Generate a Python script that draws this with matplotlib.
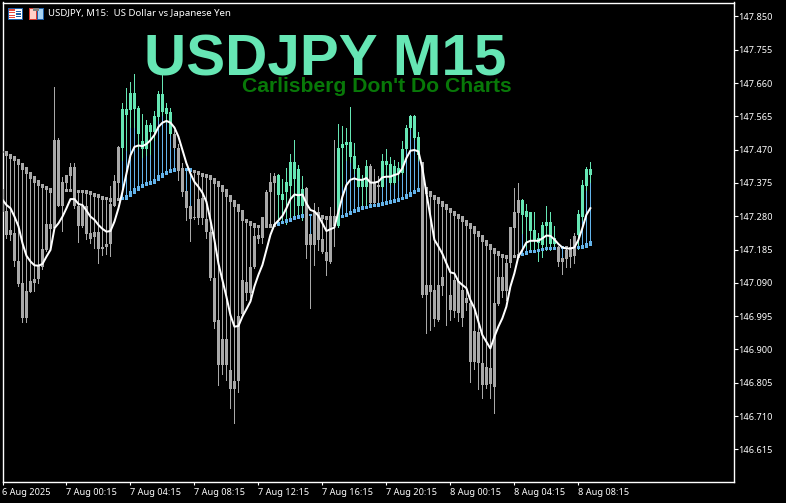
import matplotlib
matplotlib.use("Agg")
import matplotlib.pyplot as plt
from matplotlib.patches import Rectangle
import numpy as np

slow = [147.463,147.455,147.447,147.440,147.429,147.416,147.403,147.391,147.379,147.369,
147.363,147.358,147.351,147.352,147.352,147.352,147.353,147.353,147.352,147.351,
147.350,147.348,147.344,147.339,147.335,147.331,147.329,147.323,147.326,147.329,
147.331,147.338,147.348,147.357,147.364,147.369,147.373,147.377,147.384,147.393,
147.400,147.406,147.411,147.415,147.415,147.414,147.414,147.409,147.406,147.401,
147.397,147.393,147.386,147.377,147.366,147.353,147.338,147.323,147.310,147.295,
147.270,147.263,147.256,147.251,147.250,147.250,147.251,147.253,147.255,147.261,
147.263,147.268,147.272,147.276,147.280,147.283,147.284,147.284,147.283,147.281,
147.277,147.274,147.276,147.277,147.279,147.281,147.286,147.292,147.297,147.302,
147.305,147.307,147.310,147.311,147.314,147.317,147.319,147.322,147.325,147.329,
147.332,147.339,147.346,147.352,147.356,147.360,147.348,147.338,147.330,147.319,
147.310,147.301,147.292,147.284,147.276,147.267,147.257,147.248,147.234,147.224,
147.210,147.198,147.186,147.176,147.169,147.165,147.163,147.165,147.165,147.169,
147.172,147.178,147.179,147.181,147.184,147.186,147.188,147.188,147.190,147.190,
147.191,147.190,147.190,147.191,147.190,147.194,147.200,147.207]

body_top = [147.357,147.295,147.241,147.233,147.153,147.089,147.067,147.094,147.100,147.141,
147.186,147.258,147.258,147.498,147.498,147.378,147.398,147.420,147.420,147.310,
147.310,147.308,147.232,147.234,147.236,147.193,147.201,147.314,147.381,147.479,
147.585,147.585,147.632,147.632,147.590,147.494,147.540,147.540,147.566,147.629,
147.629,147.590,147.578,147.516,147.476,147.416,147.352,147.309,147.279,147.328,
147.331,147.272,147.236,147.105,146.984,146.930,146.930,146.841,146.810,146.995,
147.098,147.092,147.135,147.224,147.227,147.279,147.348,147.379,147.395,147.398,
147.343,147.378,147.434,147.436,147.414,147.357,147.360,147.229,147.291,147.291,
147.214,147.179,147.279,147.279,147.474,147.486,147.491,147.493,147.452,147.417,
147.384,147.424,147.424,147.374,147.369,147.438,147.438,147.429,147.422,147.417,
147.472,147.533,147.567,147.567,147.505,147.434,147.084,147.084,147.070,147.084,
147.108,147.056,147.056,147.098,147.094,147.070,147.046,147.033,146.953,146.951,
146.860,146.849,146.847,147.032,147.108,147.108,147.146,147.248,147.292,147.326,
147.326,147.295,147.292,147.241,147.217,147.255,147.263,147.264,147.217,147.193,
147.160,147.184,147.188,147.224,147.286,147.369,147.415,147.415]

body_bottom = [147.295,147.227,147.227,147.151,147.087,146.991,146.991,147.065,147.091,147.100,
147.134,147.184,147.245,147.246,147.310,147.310,147.374,147.395,147.310,147.251,
147.251,147.230,147.214,147.222,147.187,147.187,147.191,147.201,147.310,147.376,
147.475,147.569,147.583,147.586,147.516,147.472,147.472,147.519,147.519,147.564,
147.578,147.573,147.514,147.474,147.410,147.350,147.304,147.271,147.274,147.274,
147.276,147.236,147.105,146.977,146.855,146.855,146.855,146.786,146.786,146.810,
147.001,147.061,147.061,147.135,147.215,147.217,147.251,147.348,147.376,147.341,
147.327,147.350,147.367,147.386,147.310,147.310,147.198,147.198,147.198,147.213,
147.179,147.151,147.149,147.251,147.251,147.474,147.484,147.448,147.415,147.363,
147.363,147.363,147.317,147.317,147.363,147.363,147.427,147.374,147.374,147.403,
147.403,147.472,147.531,147.503,147.455,147.056,147.056,147.065,146.986,146.984,
147.081,147.054,147.013,147.011,147.003,146.991,147.033,146.865,146.865,146.860,
146.800,146.800,146.801,146.794,147.030,147.068,147.068,147.146,147.247,147.288,
147.284,147.279,147.239,147.210,147.205,147.198,147.252,147.201,147.201,147.150,
147.149,147.158,147.165,147.167,147.226,147.279,147.367,147.398]

wick_high = [147.357,147.295,147.241,147.233,147.153,147.089,147.067,147.094,147.100,147.141,
147.186,147.258,147.258,147.648,147.503,147.393,147.398,147.431,147.431,147.310,
147.310,147.308,147.232,147.234,147.236,147.193,147.201,147.367,147.398,147.481,
147.604,147.645,147.662,147.685,147.594,147.573,147.554,147.545,147.580,147.638,
147.685,147.604,147.588,147.526,147.486,147.433,147.352,147.309,147.279,147.328,
147.331,147.272,147.236,147.105,146.984,146.930,146.930,146.841,146.810,146.995,
147.098,147.092,147.135,147.224,147.227,147.279,147.355,147.403,147.403,147.401,
147.387,147.419,147.457,147.498,147.427,147.395,147.363,147.229,147.317,147.306,
147.214,147.179,147.306,147.498,147.544,147.538,147.531,147.591,147.488,147.427,
147.398,147.441,147.429,147.415,147.395,147.457,147.471,147.450,147.441,147.436,
147.495,147.541,147.569,147.569,147.519,147.436,147.084,147.084,147.070,147.084,
147.108,147.056,147.056,147.098,147.094,147.070,147.046,147.033,146.953,146.951,
146.860,146.849,146.847,147.032,147.108,147.108,147.146,147.250,147.360,147.374,
147.328,147.314,147.292,147.292,147.231,147.265,147.309,147.293,147.252,147.195,
147.160,147.193,147.215,147.231,147.298,147.383,147.421,147.434]

wick_low = [147.295,147.219,147.213,147.139,147.082,146.977,146.977,147.063,147.068,147.091,
147.130,147.182,147.184,147.246,147.308,147.239,147.374,147.395,147.303,147.208,
147.249,147.214,147.203,147.189,147.148,147.170,147.173,147.168,147.308,147.374,
147.440,147.469,147.535,147.535,147.474,147.450,147.454,147.459,147.497,147.554,
147.569,147.550,147.512,147.474,147.383,147.338,147.269,147.210,147.271,147.257,
147.257,147.219,147.098,146.960,146.798,146.830,146.813,146.732,146.691,146.779,
146.993,147.041,147.050,147.133,147.203,147.205,147.250,147.348,147.376,147.255,
147.260,147.258,147.270,147.279,147.279,147.268,147.160,147.019,147.141,147.184,
147.175,147.111,147.148,147.196,147.249,147.365,147.441,147.436,147.403,147.363,
147.308,147.308,147.306,147.308,147.311,147.363,147.389,147.372,147.372,147.384,
147.401,147.469,147.528,147.500,147.441,147.051,146.946,146.956,146.968,146.982,
147.054,146.970,146.984,146.994,146.980,146.968,147.013,146.808,146.844,146.786,
146.762,146.791,146.761,146.718,147.027,147.051,147.041,147.136,147.247,147.288,
147.231,147.193,147.184,147.184,147.153,147.165,147.184,147.184,147.188,147.138,
147.115,147.136,147.134,147.148,147.188,147.269,147.355,147.379]

fast = [147.327,147.312,147.303,147.279,147.251,147.203,147.167,147.151,147.140,147.139,
147.144,147.165,147.184,147.246,147.260,147.279,147.303,147.329,147.329,147.315,
147.312,147.296,147.279,147.270,147.255,147.244,147.236,147.238,147.265,147.303,
147.350,147.402,147.454,147.478,147.482,147.480,147.486,147.497,147.512,147.535,
147.547,147.552,147.547,147.533,147.507,147.469,147.431,147.402,147.378,147.364,
147.347,147.321,147.269,147.212,147.145,147.098,147.050,146.998,146.965,146.967,
146.994,147.015,147.037,147.080,147.113,147.141,147.184,147.227,147.256,147.268,
147.281,147.303,147.329,147.342,147.340,147.342,147.317,147.298,147.294,147.281,
147.260,147.238,147.243,147.248,147.293,147.336,147.369,147.384,147.388,147.384,
147.384,147.389,147.376,147.376,147.379,147.391,147.393,147.393,147.398,147.401,
147.417,147.446,147.467,147.469,147.465,147.417,147.346,147.279,147.213,147.194,
147.173,147.146,147.120,147.117,147.094,147.084,147.075,147.041,147.018,146.980,
146.941,146.922,146.903,146.936,146.965,146.989,147.022,147.079,147.117,147.165,
147.184,147.205,147.210,147.210,147.210,147.217,147.225,147.224,147.214,147.201,
147.191,147.188,147.188,147.191,147.212,147.246,147.284,147.303]

green_spans = [(30, 42), (69, 75), (84, 91), (95, 104), (130, 138), (144, 147)]
blue_spans = [(30, 43), (46, 47), (69, 75), (77, 77), (84, 104), (130, 138), (140, 140), (144, 147)]

y_ticks = [147.850,147.755,147.660,147.565,147.470,147.375,147.280,147.185,147.090,146.995,146.900,146.805,146.710,146.615]
x_tick_bars = [0,16,32,48,64,80,96,112,128,144]
x_tick_labels = ["6 Aug 2025","7 Aug 00:15","7 Aug 04:15","7 Aug 08:15","7 Aug 12:15","7 Aug 16:15",
                 "7 Aug 20:15","8 Aug 00:15","8 Aug 04:15","8 Aug 08:15"]

GREEN = "#66E6B4"; GREY = "#A9A9A9"; BLUE = "#64B4EB"
W, H = 786, 503

fig = plt.figure(figsize=(W/100, H/100), dpi=100, facecolor="black")
L, R, T, B = 2.5, 733.5, 2.5, 482.0
ax = fig.add_axes([L/W, 1-B/H, (R-L)/W, (B-T)/H], facecolor="black")
ax.set_xlim((L-2.3)/4, (R-2.3)/4)
ax.set_ylim(147.897-0.002853*B, 147.897-0.002853*T)

n = len(slow)
idx = np.arange(n)
s, tp, bt, hi, lo, fa = map(np.array, (slow, body_top, body_bottom, wick_high, wick_low, fast))
is_green = np.zeros(n, bool); is_blue = np.zeros(n, bool)
for a, b in green_spans: is_green[a:b+1] = True
for a, b in blue_spans: is_blue[a:b+1] = True
cand = np.where(is_green, GREEN, GREY)
slowc = np.where(is_blue, BLUE, GREY)

# connector from the slow average to the candle body
c1 = np.where(s > tp, tp, np.where(s < bt, bt, s))
ax.vlines(idx, s, c1, colors=slowc, lw=0.72, antialiased=False, zorder=2)
ax.vlines(idx, lo, hi, colors=cand, lw=0.72, antialiased=False, zorder=3)
# slow average blocks
prev = np.r_[s[0], s[:-1]]
mn = 0.0036
blk_top = np.maximum(s, prev) + mn
blk_bot = np.minimum(s, prev) - mn
ax.bar(idx, blk_top-blk_bot, bottom=blk_bot, width=0.8, color=slowc, linewidth=0, antialiased=False, zorder=4)
ax.bar(idx, np.maximum(tp-bt, 0.002), bottom=bt, width=0.8, color=cand, linewidth=0, antialiased=False, zorder=5)
ax.plot(idx, fa, color="white", lw=1.45, zorder=6, solid_joinstyle="round")

for sp in ax.spines.values():
    sp.set_color("white"); sp.set_linewidth(1.0)
ax.set_yticks(y_ticks)
ax.set_yticklabels([f"{v:.3f}" for v in y_ticks])
ax.yaxis.tick_right()
ax.tick_params(axis="y", colors="white", length=2.9, width=0.8, pad=0.3, labelsize=6.6)
ax.set_xticks(x_tick_bars)
ax.set_xticklabels(x_tick_labels, ha="left")
ax.tick_params(axis="x", colors="white", length=2.5, width=0.8, pad=2, labelsize=6.6)
for t in ax.get_xticklabels() + ax.get_yticklabels():
    t.set_family("Noto Sans")

def px(x, y):
    return x/W, 1-y/H

fig.text(*px(48, 13), "USDJPY, M15:  US Dollar vs Japanese Yen", color="white", fontsize=6.95,
         family="Noto Sans", va="center", ha="left")
fig.text(*px(325, 75), "USDJPY M15", color=GREEN, fontsize=42, fontweight="bold",
         family="Liberation Sans", va="baseline", ha="center", zorder=10)
fig.text(*px(512, 92), "Carlisberg Don't Do Charts", color="#087808", fontsize=15.2, fontweight="bold",
         family="Liberation Sans", va="baseline", ha="right", zorder=10)

def rect(x, y, w, h, fc, ec="none"):
    fig.add_artist(Rectangle(px(x, y+h), w/W, h/H, transform=fig.transFigure, fc=fc, ec=ec, lw=0.7, antialiased=False, zorder=9))

# window icons
rect(7.5, 8.5, 14, 10, "white", "#1F5FA8")
rect(8.5, 9.5, 6, 8.5, "#E8483C")
for yy in (11, 13.5, 16):
    rect(8.5, yy, 6, 1, "white")
    rect(15.5, yy, 5, 1, "#1F5FA8")
rect(28.5, 8.5, 7, 10, "#FFD0C8", "#D83A30")
rect(36.5, 8.5, 6, 10, "#A8D4F4", "#1F5FA8")
rect(32.5, 7.5, 6, 3, "#808080")

fig.savefig("out.png", dpi=100, facecolor="black")
